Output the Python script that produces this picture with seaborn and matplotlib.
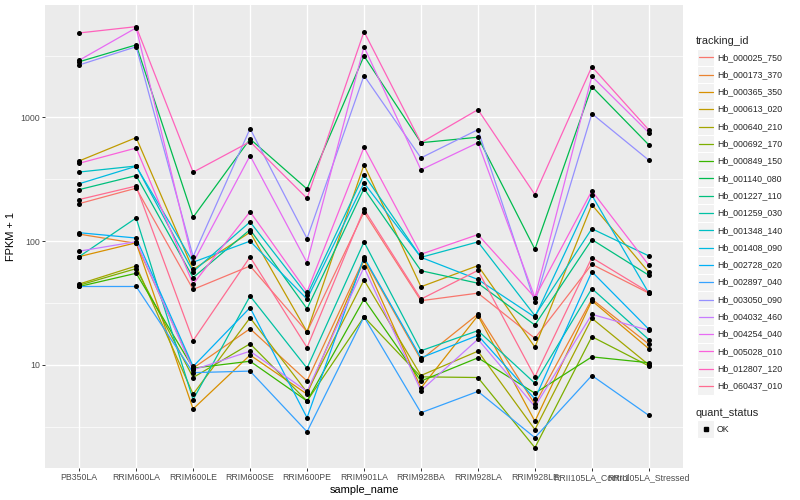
"""
FPKM profiles of selected rubber tree genes across samples (ggplot-like look).
"""

import pandas as pd
import matplotlib
matplotlib.use('Agg')
import matplotlib.pyplot as plt
import seaborn as sns
from matplotlib.lines import Line2D
from matplotlib.patches import Rectangle
from matplotlib.ticker import FixedLocator, NullFormatter

samples = ['PB350LA', 'RRIM600LA', 'RRIM600LE', 'RRIM600SE', 'RRIM600PE', 'RRIM901LA',
           'RRIM928BA', 'RRIM928LA', 'RRIM928LE', 'RRII105LA_Control', 'RRII105LA_Stressed']

tracking_ids = ['Hb_000025_750', 'Hb_000173_370', 'Hb_000365_350', 'Hb_000613_020',
                'Hb_000640_210', 'Hb_000692_170', 'Hb_000849_150', 'Hb_001140_080',
                'Hb_001227_110', 'Hb_001259_030', 'Hb_001348_140', 'Hb_001408_090',
                'Hb_002728_020', 'Hb_002897_040', 'Hb_003050_090', 'Hb_004032_460',
                'Hb_004254_040', 'Hb_005028_010', 'Hb_012807_120', 'Hb_060437_010']

# FPKM + 1 per sample
hb_000025_750 = [201, 268, 40.7, 63, 18.5, 172, 33, 38, 16.4, 65, 38]
hb_000173_370 = [114, 96, 9.4, 19.6, 7.4, 72, 11, 25.7, 4.8, 34, 14.7]
hb_000365_350 = [75, 97, 4.4, 12, 5.8, 70, 6.5, 25, 3.5, 33, 13.5]
hb_000613_020 = [445, 687, 59, 118, 18.5, 415, 42.8, 63.4, 13.9, 197, 56]
hb_000640_210 = [45, 63, 5.8, 24, 6.0, 48.5, 8.2, 12.9, 3.0, 23.8, 10]
hb_000692_170 = [44, 60, 7.9, 14.8, 5.1, 24.4, 8.0, 7.9, 2.14, 16.9, 9.8]
hb_000849_150 = [43, 55, 9.4, 10.7, 5.1, 34, 7.4, 11.4, 5.9, 11.6, 10.4]
hb_001140_080 = [2820, 3860, 156, 670, 264, 3140, 625, 692, 86, 1775, 600]
hb_001227_110 = [261, 339, 50.7, 124, 28.4, 266, 57.7, 45.7, 21, 103, 53]
hb_001259_030 = [75, 154, 5.24, 36, 9.4, 98.6, 13, 18.9, 7.1, 41.4, 16]
hb_001348_140 = [362, 405, 56.7, 143, 36.6, 345, 74, 98.6, 25, 126, 76]
hb_001408_090 = [291, 403, 67.6, 100, 34, 295, 74, 49, 24.3, 235, 38]
hb_002728_020 = [117, 106, 9.7, 29, 3.74, 74, 11.4, 17.3, 5.3, 56.6, 19.4]
hb_002897_040 = [43, 43, 8.65, 8.9, 2.88, 24.4, 4.1, 6.1, 2.58, 8.2, 3.9]
hb_003050_090 = [2655, 3730, 75, 812, 105, 2180, 471, 797, 32, 1073, 451]
hb_004032_460 = [83, 99, 9.1, 12.9, 6.1, 61.5, 6.2, 16.1, 4.6, 25.6, 19]
hb_004254_040 = [2900, 5300, 67, 491, 67, 3730, 377, 625, 35, 2150, 753]
hb_005028_010 = [426, 566, 45, 173, 38.9, 574, 78.4, 113, 35, 255, 64]
hb_012807_120 = [4820, 5420, 361, 637, 222, 4940, 625, 1157, 238, 2575, 793]
hb_060437_010 = [217, 279, 15.7, 74.5, 13.8, 181, 34, 58, 8, 73.6, 38.6]

series = [hb_000025_750, hb_000173_370, hb_000365_350, hb_000613_020, hb_000640_210,
          hb_000692_170, hb_000849_150, hb_001140_080, hb_001227_110, hb_001259_030,
          hb_001348_140, hb_001408_090, hb_002728_020, hb_002897_040, hb_003050_090,
          hb_004032_460, hb_004254_040, hb_005028_010, hb_012807_120, hb_060437_010]

# ggplot default hue palette for 20 levels
palette = ['#F8766D', '#EA8331', '#D89000', '#C09B00', '#A3A500', '#7CAE00', '#39B600',
           '#00BB4E', '#00BF7D', '#00C1A3', '#00BFC4', '#00BAE0', '#00B0F6', '#35A2FF',
           '#9590FF', '#C77CFF', '#E76BF3', '#FA62DB', '#FF62BC', '#FF6C91']

rows = []
for tid, vals in zip(tracking_ids, series):
    for i, (s, v) in enumerate(zip(samples, vals)):
        rows.append({'tracking_id': tid, 'sample_name': s, 'pos': i,
                     'fpkm': v, 'quant_status': 'OK'})
df = pd.DataFrame(rows)

sns.set_theme(style='darkgrid')
plt.rcParams['font.family'] = ['Liberation Sans', 'DejaVu Sans']

W, H = 800, 500
fig = plt.figure(figsize=(8, 5), dpi=100)
ax = fig.add_axes([45 / W, 1 - 468 / H, (683 - 45) / W, (468 - 5) / H])
ax.set_facecolor('#EBEBEB')

sns.lineplot(data=df, x='pos', y='fpkm', hue='tracking_id', palette=palette,
             estimator=None, sort=False, lw=0.9, legend=False, ax=ax, zorder=2)
sns.scatterplot(data=df, x='pos', y='fpkm', color='black', marker='o', s=13,
                linewidth=0, legend=False, ax=ax, zorder=3)

ax.set_yscale('log')
ax.set_ylim(1.466, 8110)
ax.set_xlim(-0.6, 10.6)
ax.set_xticks(range(len(samples)))
ax.set_xticklabels(samples)
ax.yaxis.set_major_locator(FixedLocator([10, 100, 1000]))
ax.set_yticklabels(['10', '100', '1000'])
ax.yaxis.set_minor_locator(FixedLocator([10 ** 0.5, 10 ** 1.5, 10 ** 2.5, 10 ** 3.5]))
ax.yaxis.set_minor_formatter(NullFormatter())

ax.grid(which='major', color='white', lw=1.0)
ax.grid(which='minor', axis='y', color='white', lw=0.5)
ax.set_axisbelow(True)
for sp in ax.spines.values():
    sp.set_visible(False)
ax.tick_params(which='major', length=2.0, width=0.7, color='#333333',
               labelsize=6.3, labelcolor='#4D4D4D', pad=1.6, bottom=True, left=True)
ax.tick_params(which='minor', length=0)

ax.set_xlabel('sample_name', fontsize=7.9, color='black', labelpad=2)
ax.set_ylabel('FPKM + 1', fontsize=7.9, color='black', labelpad=3)


def fx(px):
    return px / W


def fy(py):
    return 1 - py / H


# legend: tracking_id
fig.text(fx(696), fy(40.5), 'tracking_id', fontsize=7.9, va='center', ha='left')
step = 17.3
for i, (tid, col) in enumerate(zip(tracking_ids, palette)):
    yc = 57.3 + step * i
    fig.add_artist(Rectangle((fx(697), fy(yc + step / 2)), step / W, step / H,
                             facecolor='#F2F2F2', edgecolor='white', lw=0.8,
                             transform=fig.transFigure))
    fig.add_artist(Line2D([fx(699), fx(712.5)], [fy(yc), fy(yc)], color=col, lw=0.9,
                          transform=fig.transFigure))
    fig.text(fx(717), fy(yc), tid, fontsize=6.3, va='center', ha='left')

# legend: quant_status
fig.text(fx(696), fy(412.5), 'quant_status', fontsize=7.9, va='center', ha='left')
fig.add_artist(Rectangle((fx(697), fy(429 + step / 2)), step / W, step / H,
                         facecolor='#F2F2F2', edgecolor='white', lw=0.8,
                         transform=fig.transFigure))
fig.add_artist(Line2D([fx(705.5)], [fy(429)], marker='s', markersize=2.6, color='black',
                      lw=0, transform=fig.transFigure))
fig.text(fx(717), fy(429), 'OK', fontsize=6.3, va='center', ha='left')

fig.savefig('out.png', dpi=100)
